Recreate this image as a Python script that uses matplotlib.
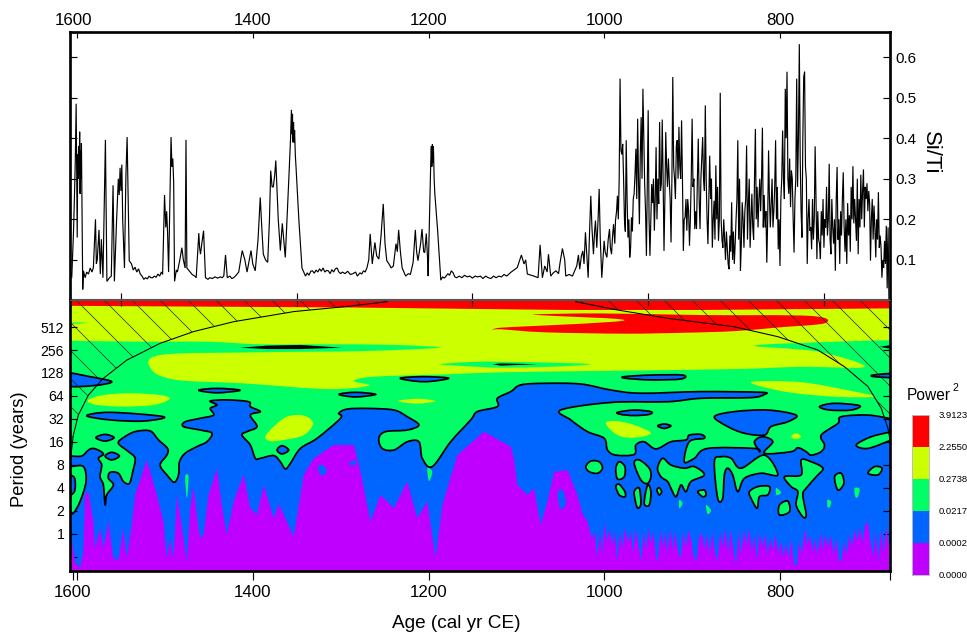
import matplotlib
matplotlib.use("Agg")
import matplotlib.pyplot as plt
from matplotlib.colors import ListedColormap
from matplotlib.patches import PathPatch
from matplotlib.path import Path
from matplotlib.transforms import ScaledTranslation

plt.rcParams['font.family'] = ['Liberation Sans', 'DejaVu Sans']
plt.rcParams['hatch.linewidth'] = 0.6

# ---- Si/Ti record: (age cal yr CE, ratio)
SERIES_1600S = [(1608,.08),(1606,.056),(1604,.17),(1603,.25),(1602,.342),(1601,.485),(1599.8,.155),(1599.2,.36),(1598.7,.30),(1598.2,.38),(1597.6,.31),(1597,.416),(1596.5,.263),(1596,.37),(1595.5,.3),(1595,.388),(1593.5,.027),(1592.7,.073),(1590.8,.056),(1589,.07),(1587,.065),(1585,.08),(1583,.07),(1581.4,.081),(1579,.2),(1578,.09),(1577,.1),(1575,.174),(1573.5,.065),(1572.3,.151),(1570.5,.056),(1567.7,.396),(1566,.047),(1563,.056),(1561,.06),(1559,.284),(1557.5,.047),(1555,.197),(1553,.3),(1552,.26),(1551,.327),(1550,.27),(1549,.335),(1548,.197),(1546,.08),(1544.4,.305),(1543,.403),(1540.6,.098),(1538,.09),(1536,.075),(1534,.082),(1532,.07),(1530,.078),(1528,.065),(1526,.06),(1524,.052),(1522,.056),(1520,.053),(1518,.06),(1516,.056),(1514,.056),(1512,.06),(1510,.057),(1508,.065),(1506,.06),(1504,.07),(1502.6,.064)]
SERIES_1500S = [(1500.4,.26),(1499,.18),(1498,.22),(1497,.17),(1495.8,.07),(1493,.403),(1492,.33),(1491,.35),(1490,.29),(1489,.047),(1487,.075),(1485.8,.07),(1483,.1),(1480.7,.13),(1479,.1),(1477,.08),(1476,.396),(1475,.08),(1472,.072),(1469,.064),(1466,.06),(1464.4,.056),(1461.4,.166),(1460.5,.13),(1459.5,.114),(1458,.14),(1456,.172),(1455,.12),(1453.8,.056),(1451,.052),(1449,.056),(1446,.054),(1443,.058),(1440,.055),(1437,.058),(1435,.056),(1433,.06),(1431,.112),(1429,.056),(1426,.06),(1424,.054),(1421.7,.056),(1419,.062),(1416,.07),(1412,.123),(1409,.1),(1406.5,.07),(1404,.1),(1402,.123),(1400,.09),(1397.2,.073),(1394,.15),(1391.5,.254),(1389.5,.17),(1388,.114),(1385.5,.1),(1383,.094),(1381,.2),(1379.6,.32),(1378,.28),(1376.6,.28),(1375,.31),(1373.8,.345),(1371,.2),(1368.6,.123),(1366.4,.19),(1363,.106),(1361,.2),(1359,.298),(1357,.4)]
SERIES_1300S = [(1356,.47),(1355.4,.41),(1354.8,.46),(1354.2,.39),(1353.6,.44),(1353,.39),(1352.4,.42),(1351.6,.36),(1350.8,.33),(1347.5,.197),(1344,.08),(1342,.07),(1340,.06),(1338,.068),(1336,.062),(1334,.072),(1332,.073),(1330,.067),(1328,.075),(1326,.07),(1324,.078),(1322,.072),(1320,.08),(1318,.07),(1316,.074),(1314,.073),(1312,.066),(1310,.076),(1308,.07),(1306,.078),(1304,.08),(1302,.07),(1300,.066),(1298,.07),(1295,.066),(1292,.072),(1289,.064),(1286,.066),(1283,.07),(1281,.06),(1278,.068),(1276,.065),(1274,.073),(1272,.07),(1270,.081),(1268,.1),(1266.4,.164),(1264,.09),(1261,.143),(1259,.11),(1256.5,.102),(1254,.16),(1251.5,.238),(1249.5,.14),(1247.5,.098),(1245,.09),(1242.5,.08),(1240,.085),(1237,.14),(1235.5,.12),(1234,.174),(1232,.12),(1230,.08),(1226,.06),(1223,.066),(1220.6,.064),(1217.5,.094),(1215,.174),(1213.5,.12),(1212,.098),(1209,.14),(1207.4,.176),(1205.5,.12),(1204.3,.118),(1202.5,.165),(1201,.1),(1200.4,.06)]
SERIES_1100S = [(1197.4,.345),(1196.8,.38),(1196.2,.33),(1195.6,.385),(1195,.34),(1194.4,.38),(1193.6,.3),(1192.8,.263),(1189.7,.175),(1186,.05),(1184,.058),(1182,.055),(1180,.06),(1178,.066),(1176,.062),(1174,.073),(1172,.068),(1170,.058),(1168,.056),(1165,.06),(1162,.056),(1159,.062),(1156,.058),(1153,.06),(1150,.055),(1147,.06),(1144,.058),(1141,.06),(1138,.054),(1135,.06),(1132,.056),(1129,.054),(1126,.06),(1123,.056),(1120,.06),(1117,.058),(1114,.064),(1111,.06),(1108,.066),(1106.5,.069),(1099,.081),(1094.3,.112),(1091.3,.09),(1089.4,.10),(1087.5,.065),(1083,.062),(1080,.06),(1075.3,.056),(1073,.137),(1070.4,.056),(1067.7,.085),(1065,.07),(1063.5,.114),(1060.9,.06),(1058,.068),(1055,.073),(1052,.066),(1050.3,.093),(1047.6,.128),(1045,.1),(1043.8,.06),(1040,.064),(1036.2,.06)]
SERIES_1000S = [(1031.3,.085),(1029.4,.112),(1027.9,.077),(1026,.11),(1024.4,.122),(1023,.09),(1021.4,.168),(1018.3,.056),(1017,.15),(1015.3,.258),(1014,.18),(1012.3,.114),(1011,.17),(1010,.197),(1008.5,.13),(1007,.2),(1005.8,.275),(1004.5,.15),(1002.8,.056),(1000.1,.147),(999,.12),(997,.106),(995.5,.15),(994,.176),(993,.13),(991.7,.114),(990.5,.16),(989.4,.188),(988,.14),(987.2,.197),(986,.22)]
# one value per year from 985 downwards
SI_TI_985_ON = [
 .258,.2,.3,.547,.37,.36,.386,.3,.2,.17,
 .395,.25,.155,.2,.106,.13,.205,.17,.25,.263,
 .31,.374,.25,.448,.3,.188,.36,.452,.3,.522,
 .4,.287,.22,.11,.3,.469,.2,.11,.2,.287,
 .24,.3,.172,.25,.378,.2,.3,.238,.44,.27,
 .287,.446,.3,.122,.25,.415,.33,.28,.35,.296,
 .25,.143,.3,.551,.33,.3,.25,.38,.395,.3,
 .428,.33,.3,.444,.3,.122,.2,.205,.25,.172,
 .25,.221,.135,.2,.3,.448,.28,.3,.176,.22,
 .176,.3,.399,.25,.176,.3,.35,.403,.3,.27,
 .481,.3,.2,.139,.25,.357,.25,.3,.13,.2,
 .246,.15,.333,.2,.28,.147,.2,.512,.2,.15,
 .13,.2,.15,.1,.17,.13,.09,.077,.16,.12,
 .242,.1,.17,.09,.139,.2,.25,.395,.15,.3,
 .073,.14,.242,.2,.13,.22,.25,.382,.15,.24,
 .3,.13,.2,.263,.18,.15,.3,.423,.2,.28,
 .18,.25,.3,.22,.3,.426,.18,.26,.18,.22,
 .093,.2,.37,.25,.18,.24,.3,.18,.22,.28,
 .395,.2,.28,.126,.2,.085,.25,.3,.419,.3,
 .25,.522,.4,.564,.3,.263,.35,.23,.32,.3,
 .2,.118,.25,.3,.547,.28,.4,.632,.35,.22,
 .155,.4,.551,.564,.33,.3,.09,.2,.25,.172,
 .18,.126,.25,.15,.2,.38,.25,.102,.22,.15,
 .14,.102,.22,.16,.25,.13,.2,.18,.28,.16,
 .2,.337,.15,.114,.25,.18,.14,.2,.073,.25,
 .329,.15,.2,.09,.22,.16,.25,.316,.18,.12,
 .2,.09,.24,.16,.21,.12,.28,.2,.331,.19,
 .25,.2,.147,.3,.114,.25,.18,.31,.2,.27,
 .323,.18,.28,.25,.289,.22,.27,.24,.098,.2,
 .25,.15,.234,.18,.106,.2,.15,.267,.13,.16,
 .13,.056,.1,.081,.147,.09,.184,.03,.18,.003]

# ---- Wavelet power regions as (age, log2 period)
RED_STRIP = [(1609,9.92),(1292.6,9.85),(1136.8,9.78),(1041.9,9.74),(889.9,9.74),(672.5,9.81),(672.5,10.3),(1609,10.3)]
RED_MAIN = [(1117.9,8.97),(1070.4,9.06),(988.7,9.23),(984.9,9.35),(1060.9,9.49),(1078,9.55),(1003.9,9.59),(889.9,9.52),(764.5,9.48),(749.3,9.16),(802.5,8.98),(851.9,8.82),(908.9,8.75),(977.3,8.71),(1068.5,8.77),(1117.9,8.9),(1127.3,8.87)]
YELLOW_MAIN = [(1612,9.95),(668,9.95),(668,8.44),(672.5,8.43),(737.9,8.36),(829.1,8.19),(756.9,7.93),(703.7,7.27),(775.9,7.27),(851.9,7.17),(1003.9,7.09),(1117.9,7.03),(1182.4,6.94),(1262.2,6.84),(1285,6.65),(1267.9,6.45),(1315.4,6.3),(1410.4,6.55),(1486.4,6.7),(1514.9,7.13),(1505.4,7.78),(1391.4,7.9),(1277.4,7.95),(1188.1,8.1),(1239.4,8.22),(1315.4,8.25),(1391.4,8.25),(1452.2,8.36),(1524.4,8.36),(1606.9,8.4),(1612,8.4)]
YELLOW_PATCHES = [
    [(832.9,6.6),(775.9,6.6),(715.1,6.19),(692.3,5.97),(737.9,5.97),(794.9,6.19)],
    [(1587.1,5.83),(1570,6.04),(1539.6,6.12),(1505.4,6.04),(1494.8,5.87),(1513,5.61),(1551,5.54),(1581.4,5.64)],
    [(1234.8,5.78),(1212.8,5.88),(1191.9,5.78),(1212.8,5.67)],
    [(1385.7,4.23),(1376.2,4.67),(1361,5.1),(1342,5.15),(1331.4,4.81),(1342,4.3),(1364.8,4.09),(1380,4.04)],
    [(998.2,4.81),(986.8,4.91),(965.9,4.74),(946.9,4.38),(965.9,4.19),(984.9,4.3)],
    [(787.3,4.23),(781.6,4.38),(775.9,4.23),(781.6,4.13)],
]
GREEN_TONGUE = [(1186.2,7.38),(1144.4,7.49),(1117.9,7.49),(1060.9,7.45),(1015.3,7.38),(1060.9,7.27),(1117.9,7.23),(1144.4,7.27)]
GREEN_TOP_LEFT = [(1606,9.19),(1587,9.19),(1606,9.13)]
BLUE_TOP = [(1612,3.39),(1606.9,3.39),(1594.7,3.39),(1587,3.65),(1581.4,3.72),(1573.8,3.61),(1570,3.46),(1575.7,3.29),(1571.9,3.0),(1573.8,2.49),(1570,2.13),(1568,1.26),(1566.2,1.70),(1558.6,2.13),(1564.3,2.42),(1562.4,2.68),(1552.9,2.64),(1547.2,2.28),(1540.4,2.20),(1536.6,2.71),(1533.9,3.29),(1541.5,3.58),(1552.9,3.94),(1547.2,4.19),(1533.9,4.45),(1516.8,4.48),(1507.3,4.09),(1497,3.72),(1497.8,3.43),(1505.4,3.0),(1497.8,2.57),(1489.4,2.25),(1484.5,2.57),(1483.4,3.14),(1476.9,3.51),(1463.6,3.80),(1452.2,4.01),(1446.5,4.38),(1459.8,4.52),(1478.8,4.67),(1476.9,4.88),(1459.8,5.03),(1444.6,5.17),(1448.4,5.46),(1440.8,5.61),(1448.4,5.78),(1429.4,5.83),(1404.7,5.75),(1402.8,5.54),(1391.4,5.32),(1402.8,5.17),(1395.2,4.67),(1406.6,4.45),(1412.3,4.30),(1402.8,3.87),(1397.1,3.29),(1391.4,3.29),(1376.2,3.41),(1368.6,3.14),(1362.9,2.83),(1357.2,3.07),(1345.8,3.72),(1326.8,4.16),(1300.2,5.03),(1302.1,5.25),(1292.6,5.43),(1269.8,5.46),(1239.4,5.39),(1224.2,5.10),(1210.9,4.74),(1224.2,4.52),(1248.9,4.45),(1256.5,4.16),(1252.7,3.72),(1239.4,3.65),(1224.2,4.01),(1210.9,4.01),(1207.1,3.29),(1195.7,2.93),(1174.8,4.01),(1152,4.96),(1144.4,5.32),(1121.6,5.54),(1121.6,5.90),(1106.4,6.19),(1095.1,6.48),(1068.5,6.55),(1026.7,6.52),(992.5,6.26),(958.3,6.12),(889.9,6.19),(821.5,6.16),(817.7,6.07),(832.9,5.93),(889.9,5.90),(927.9,5.75),(992.5,5.72),(1049.5,5.39),(1038.1,4.96),(1019.1,4.45),(1000.1,4.16),(996.3,3.65),(986.8,3.43),(965.9,3.46),(964,3.87),(954.5,4.01),(941.2,3.70),(924.1,4.01),(907,4.09),(903.2,4.30),(889.9,4.33),(886.1,4.16),(903.2,4.01),(908.9,3.14),(897.5,3.29),(882.3,3.72),(829.1,3.72),(823.4,3.58),(829.1,4.01),(819.6,4.23),(808.2,4.01),(817.7,3.51),(787.3,3.58),(779.7,3.75),(770.2,3.58),(764.5,3.43),(753.1,3.58),(749.3,3.87),(753.1,4.30),(734.1,4.81),(730.3,5.10),(699.9,5.17),(672.5,5.0),(668,4.95)]
PURPLE_TOP = [(1608,.25),(1602.3,-1.2),(1596.6,-1.49),(1592.8,-.77),(1590.9,1.7),(1587.1,1.84),(1581.4,.54),(1579.5,-.62),(1573.8,.25),(1570,-.62),(1564.3,.54),(1558.6,-1.06),(1552.9,-1.13),(1547.2,.25),(1543.4,-1.06),(1537.7,.39),(1533.9,1.7),(1520.6,3.22),(1509.2,1.7),(1501.6,.54),(1497.8,-1.06),(1494,-.2),(1490.2,-1.06),(1486.4,1.7),(1481,.4),(1475,-1.2),(1471.2,1.12),(1467.4,2.06),(1463,.6),(1459.8,-.19),(1456,-.04),(1450.3,1.7),(1440.8,2.86),(1435,1.2),(1429.4,-.04),(1421.8,1.41),(1410.4,2.57),(1402.8,1.12),(1395.2,.83),(1387.6,2.13),(1376.2,.68),(1370,1.3),(1364.8,.83),(1353.4,-.12),(1342,2.57),(1330.6,3.29),(1307.8,3.87),(1285,3.87),(1277.4,2.71),(1266,.54),(1254.6,1.7),(1239.4,1.12),(1224.2,2.28),(1212.8,.68),(1201.4,1.41),(1191.9,-1.06),(1184.3,1.26),(1167.2,3.43),(1136.8,4.45),(1106.4,3.8),(1102.7,3.29),(1098.9,2.13),(1087.5,1.70),(1079.9,1.99),(1072.3,.39),(1064.7,1.41),(1057.1,2.71),(1041.9,2.78),(1030.5,1.70),(1025,.9),(1019,.54),(1014,-.2),(1011,.1),(1008,-1.06),(1005,.1),(1002,-.9),(1000,.54),(997,-.3),(994,.2),(991,-.5),(988,.1),(985,-1.2),(982,.1),(979,-.6),(976,.3),(973,-.4),(970,.1),(967,-.8),(964,.25),(961,-.5),(958,-1.2),(955,.1),(952,-.7),(950,.25),(947,-.4),(944,.1),(941,-1.0),(939,-1.2),(936,.2),(933,-.6),(930,.1),(928,-.9),(925,.25),(922,-.7),(919,.1),(916,-.8),(913,-1.06),(910,.1),(907,-.6),(904,.2),(901,-.3),(898,-1.0),(895,-1.2),(892,-.2),(889,.1),(886,-.7),(883,.0),(880,-.9),(877,.1),(874,-.8),(871,-1.2),(868,.1),(865,-.6),(862,.25),(859,-.9),(856,.2),(853,-.7),(850,-1.35),(847,.1),(844,-.9),(841,.2),(838,-.5),(835,.25),(832,-.8),(829,.0),(826,-1.2),(823,.1),(820,-.6),(817,.0),(814,-.9),(811,-.2),(808,-.7),(805,.0),(802,-.9),(799,-.3),(796,-1.0),(793,-.4),(790,-1.1),(787,-.2),(784,-1.3),(781,-1.42),(778,-.3),(775,-.9),(772,.25),(769,-.5),(766,.0),(763,-.8),(760,-.2),(757,-.91),(754,.1),(751,-.7),(748,.0),(745,-.6),(742,-.04),(739,-.9),(736,-.2),(733,-1.1),(730,-1.2),(727,-.3),(724,-.9),(721,.0),(718,-.6),(715,.2),(712,-.3),(709,.3),(706,-.4),(703,.4),(700,.54),(697,-.3),(694,-1.0),(691,.1),(688,-1.2),(685,.2),(682,-.8),(679,.3),(676,-.5),(673,-.19)]
BLUE_SPECKS = [
    [(1326,2.9),(1320,3.0),(1316,2.7),(1322,2.55)],
    [(1053,1.8),(1047,1.9),(1044,1.3),(1050,1.1)],
    [(1290,3.1),(1284,3.2),(1282,3.05),(1288,2.98)],
]
GREEN_OUTLINED = [
    [(1021,2.93),(1015.3,3.17),(1005.8,3.14),(1002,2.86),(1007.7,2.64),(1017.2,2.71)],
    [(986.8,2.86),(983,3.14),(976.5,2.93),(977.3,2.49),(984.9,2.39)],
    [(986.8,2.06),(983,2.16),(976.5,1.84),(976.5,1.62),(983,1.70)],
    [(965.9,3.07),(960.2,3.22),(948.8,2.86),(946.9,2.49),(950.7,2.2),(958.3,2.35)],
    [(965.9,1.84),(960.2,1.99),(958.3,1.33),(961.4,1.12),(964,1.33)],
    [(954.5,1.33),(950.7,2.13),(946.9,1.84),(948.8,1.26)],
    [(940.1,1.91),(937.4,2.01),(934.7,1.84),(937.4,1.70)],
    [(939.3,2.86),(933.6,3.29),(924.1,3.0),(908.9,2.86),(897.5,2.93),(886.1,2.57),(901.3,2.28),(907,1.84),(912.7,2.13),(918.4,1.62),(924.1,1.99),(927.9,2.28),(935.5,2.49)],
    [(874.7,3.14),(867.1,3.36),(855.7,3.29),(844.3,2.86),(817.7,3.43),(802.5,2.57),(821.5,2.64),(840.5,2.42),(848.1,1.84),(853.8,2.57),(859.5,2.86),(863.3,2.57),(865.2,1.55),(870.9,1.55)],
    [(834.8,1.84),(825.3,2.06),(812,2.06),(813.9,1.70),(823.4,1.62),(826,1.12),(832.9,1.55)],
    [(794.9,2.49),(775.9,2.57),(775.9,3.22),(764.5,3.14),(751.2,2.86),(758.8,2.49),(770.2,1.99),(774,1.70),(770.2,.83),(774,.75),(781.6,1.26),(779.7,1.84),(787.3,2.06)],
    [(800.6,1.26),(791.1,1.43),(789.2,.97),(800.6,.83)],
    [(737.9,2.49),(730.3,2.64),(727.3,2.2),(734.1,1.91)],
    [(699.9,2.64),(692.3,2.93),(683.9,2.86),(688.5,2.57)],
    [(893.7,1.84),(886.1,1.91),(884.2,1.70),(888,1.62)],
    [(713.2,3.87),(696.1,4.23),(672.5,4.45),(668,4.48),(668,4.07),(672.5,4.09),(699.9,3.72)],
    [(1612,2.93),(1606.9,2.93),(1592.8,2.93),(1589.8,2.28),(1596.6,1.41),(1604.2,.9),(1606.9,.97),(1612,.97)],
]
GREEN_PLAIN = [
    [(804.4,2.0),(798.7,1.8),(804,1.7)],
    [(746,1.48),(741.7,1.41),(743.6,1.16),(746,1.19)],
    [(715.1,1.99),(709.4,1.96),(711.3,1.62),(714.3,1.62)],
    [(884.2,1.26),(878.5,1.04),(882.3,.86)],
    [(914.6,1.48),(910.8,1.33),(914.6,1.12)],
    [(1476.9,2.49),(1473.1,2.49),(1475,1.55)],
    [(1201.4,2.86),(1195.7,2.71),(1199.5,2.3)],
]
BLUE_OUTLINED = [
    [(1612,2.49),(1603,2.45),(1603,1.84),(1612,1.70)],
    [(1461.7,6.25),(1440.8,6.33),(1414.2,6.25),(1440.8,6.14)],
    [(1302.1,6.07),(1283.1,6.16),(1260.3,6.07),(1283.1,5.96)],
    [(1232.6,6.77),(1205.2,6.84),(1176.7,6.77),(1205.2,6.62)],
    [(1589,5.14),(1562.4,5.29),(1501.6,5.1),(1524.4,4.91),(1562.4,4.96)],
    [(1612,6.98),(1585.2,6.84),(1560.5,6.62),(1581.4,6.45),(1612,6.45)],
    [(1578.7,4.19),(1568.1,4.33),(1557.8,4.19),(1568.1,4.04)],
    [(1568.1,3.39),(1560.5,3.55),(1551.8,3.39),(1560.5,3.22)],
    [(1372.4,3.65),(1366.7,3.84),(1359.1,3.65),(1366.7,3.48)],
    [(977.3,6.84),(946.9,6.91),(910.8,6.91),(912.7,6.74),(946.9,6.7),(975.4,6.77)],
    [(984.9,5.29),(965.9,5.39),(946.9,5.32),(948.8,5.2),(965.9,5.15),(981.1,5.2)],
    [(939.3,4.7),(931.7,4.78),(924.1,4.7),(931.7,4.59)],
    [(874.7,5.1),(851.9,5.32),(813.9,5.39),(781.6,5.17),(791.1,4.88),(810.1,4.67),(817.7,4.3),(840.5,4.38),(859.5,4.67)],
    [(755,5.54),(737.9,5.68),(709.4,5.58),(718.9,5.39),(743.6,5.39)],
    [(694.2,6.91),(668,6.98),(668,6.8),(692.3,6.84)],
]
BLACK_SLIVERS = [
    [(1414.2,8.1),(1383.8,8.19),(1345.8,8.22),(1298.3,8.1),(1345.8,8.04),(1383.8,8.04)],
    [(1127.3,7.38),(1117.9,7.42),(1076.1,7.38),(1117.9,7.32)],
    [(686.6,8.14),(672.5,8.22),(672.5,8.04)],
]
COI_LEFT = [(1606.9,3.43),(1604.2,4.30),(1598.5,5.17),(1587.1,6.04),(1570,6.77),(1543.4,7.56),(1505.4,8.29),(1467.4,8.80),(1421.8,9.23),(1353.4,9.67),(1296.4,9.88),(1247,10.1)]
COI_RIGHT = [(1032.4,10.1),(984.9,9.74),(927.9,9.38),(851.9,9.01),(802.5,8.58),(756.9,8.0),(726.5,7.27),(699.9,6.41),(684.7,5.46),(677.1,4.59),(672.5,3.58)]

PERIOD_TICKS = [-1,0,1,2,3,4,5,6,7,8,9]
PERIOD_LABELS = ['','1','2','4','8','16','32','64','128','256','512']
POWER_LABELS = ['0.0000','0.0002','0.0217','0.2738','2.2550','3.9123']
AGE_MAJOR = [1600,1400,1200,1000,800]
AGE_OFFSET = [1550,1350,1150,950,750]
SI_TICKS = [.1,.2,.3,.4,.5,.6]

PURPLE, BLUE, GREEN, YELLOW, RED = '#BF00FF','#0066FF','#00FF66','#CCFF00','#FF0000'

early = SERIES_1600S + SERIES_1500S + SERIES_1300S + SERIES_1100S + SERIES_1000S
AGE = [p[0] for p in early] + [985 - i for i in range(len(SI_TI_985_ON))]
SI_TI = [p[1] for p in early] + SI_TI_985_ON

W, H, DPI = 967, 635, 84
fig = plt.figure(figsize=(W/DPI, H/DPI), dpi=DPI)
def box(l, t, r, b):
    return [l/W, 1-b/H, (r-l)/W, (b-t)/H]

XLIM = (1608, 674.8)
top = fig.add_axes(box(70, 32, 890, 299))
low = fig.add_axes(box(70, 300, 890, 571))

# upper panel
top.plot(AGE, SI_TI, color='k', lw=1.0, solid_joinstyle='miter')
top.set_xlim(*XLIM); top.set_ylim(0.0035, 0.662)
top.set_xticks(AGE_MAJOR); top.set_xticklabels([str(a) for a in AGE_MAJOR])
top.set_xticks(AGE_OFFSET, minor=True)
top.tick_params(axis='x', which='major', top=True, bottom=False, labeltop=True, labelbottom=False,
                direction='in', length=5, width=1, labelsize=14.5, pad=3.5)
top.tick_params(axis='x', which='minor', top=False, bottom=True, direction='in', length=5, width=1)
top.set_yticks(SI_TICKS); top.set_yticklabels([f'{v:.1f}' for v in SI_TICKS])
top.tick_params(axis='y', left=True, right=True, labelleft=False, labelright=True,
                direction='in', length=6, width=1, labelsize=13, pad=5)
fig.text(930/W, 1-153/H, 'Si/Ti', rotation=-90, ha='center', va='center', fontsize=19)
lab = top.xaxis.get_major_ticks()[0].label2
lab.set_transform(lab.get_transform() + ScaledTranslation(-4/DPI, 0, fig.dpi_scale_trans))

# lower panel
low.set_facecolor(GREEN)
low.set_xlim(*XLIM); low.set_ylim(-1.609, 10.174)
BOTTOM = -2.0

def curve(pts, closed):
    """Rounded outline through the read points (cubic segments, Catmull-Rom handles)."""
    n = len(pts)
    def at(i):
        return pts[i % n] if closed else pts[min(max(i, 0), n-1)]
    verts, codes = [pts[0]], [Path.MOVETO]
    for i in range(n if closed else n-1):
        p0, p1, p2, p3 = at(i-1), at(i), at(i+1), at(i+2)
        verts += [(p1[0]+(p2[0]-p0[0])/6, p1[1]+(p2[1]-p0[1])/6),
                  (p2[0]-(p3[0]-p1[0])/6, p2[1]-(p3[1]-p1[1])/6), p2]
        codes += [Path.CURVE4]*3
    return verts, codes

def blob(pts, color, z, outline=False):
    v, c = curve(pts, True)
    low.add_patch(PathPatch(Path(v, c), facecolor=color, edgecolor='k' if outline else 'none',
                            lw=1.5 if outline else 0, zorder=z))

def straight(pts, color, z):
    low.fill([p[0] for p in pts], [p[1] for p in pts], facecolor=color, edgecolor='none', lw=0, zorder=z)

blob(YELLOW_MAIN, YELLOW, 1)
blob(GREEN_TONGUE, GREEN, 1.1)
blob(GREEN_TOP_LEFT, GREEN, 1.1)
for p in YELLOW_PATCHES:
    blob(p, YELLOW, 1.2)
straight(RED_STRIP, RED, 1.3)
blob(RED_MAIN, RED, 1.3)

v, c = curve(BLUE_TOP, False)
fv = v + [(668, BOTTOM), (1612, BOTTOM), v[0]]
fc = c + [Path.LINETO, Path.LINETO, Path.CLOSEPOLY]
low.add_patch(PathPatch(Path(fv, fc), facecolor=BLUE, edgecolor='none', lw=0, zorder=2))
low.add_patch(PathPatch(Path(v, c), facecolor='none', edgecolor='k', lw=1.5, zorder=4))
straight(PURPLE_TOP + [(672, BOTTOM), (1609, BOTTOM)], PURPLE, 3)
for p in BLUE_SPECKS:
    blob(p, BLUE, 3.2)
for p in GREEN_PLAIN:
    blob(p, GREEN, 3.5)
for p in GREEN_OUTLINED:
    blob(p, GREEN, 4, True)
for p in BLUE_OUTLINED:
    blob(p, BLUE, 4.5, True)
for p in BLACK_SLIVERS:
    straight(p, 'k', 4.5)

# cone of influence + hatching
low.plot(*zip(*COI_LEFT), color='k', lw=0.9, zorder=6)
low.plot(*zip(*COI_RIGHT), color='k', lw=0.9, zorder=6)
for side, corner in ((COI_LEFT, [(1247, 10.3), (1609, 10.3), (1609, 3.43)]),
                     (COI_RIGHT, [(672.5, 10.3), (1032.4, 10.3)])):
    low.fill(*zip(*(side + corner)), facecolor='none', edgecolor='#222222', hatch='\\', lw=0, zorder=5)

low.set_yticks(PERIOD_TICKS); low.set_yticklabels(PERIOD_LABELS)
low.tick_params(axis='y', left=True, right=True, direction='in', length=6, width=1, labelsize=12, pad=5)
low.set_xticks([1604.5] + AGE_MAJOR + [675])
low.set_xticklabels([''] + [str(a) for a in AGE_MAJOR] + [''])
low.set_xticks(AGE_OFFSET, minor=True)
low.tick_params(axis='x', which='major', bottom=True, top=False, direction='out', length=8, width=1, labelsize=14.5, pad=4)
low.tick_params(axis='x', which='minor', bottom=False, top=True, direction='in', length=5, width=1)
lab = low.xaxis.get_major_ticks()[1].label1
lab.set_transform(lab.get_transform() + ScaledTranslation(-5/DPI, 0, fig.dpi_scale_trans))
low.set_axisbelow(False)

for ax in (top, low):
    for s in ax.spines.values():
        s.set_linewidth(2.3); s.set_zorder(10)
top.spines['bottom'].set_linewidth(1.0); top.spines['bottom'].set_color('#555555')
low.spines['top'].set_linewidth(1.0); low.spines['top'].set_color('#555555')

fig.text(456/W, 1-623/H, 'Age (cal yr CE)', ha='center', va='center', fontsize=16.3)
fig.text(20/W, 1-449/H, 'Period (years)', rotation=90, ha='center', va='center', fontsize=15.8)

# colour key
key = fig.add_axes(box(912, 415, 929, 575))
key.pcolormesh([0, 1], range(6), [[i] for i in range(5)],
               cmap=ListedColormap([PURPLE, BLUE, GREEN, YELLOW, RED]), vmin=0, vmax=4)
key.set_xticks([])
key.yaxis.tick_right()
key.set_yticks(range(6)); key.set_yticklabels(POWER_LABELS)
key.tick_params(axis='y', length=0, labelsize=8.1, pad=8)
for s in key.spines.values():
    s.set_color('#bbbbbb'); s.set_linewidth(0.8)
fig.text(907/W, 1-395/H, 'Power', ha='left', va='center', fontsize=13.3)
fig.text(952/W, 1-388/H, '2', ha='left', va='center', fontsize=9)

fig.savefig('out.png', dpi=DPI)
